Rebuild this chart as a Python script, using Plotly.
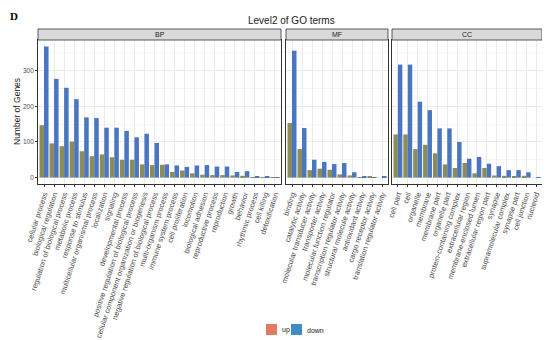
import plotly.graph_objects as go

bp_terms = ["cellular process", "biological regulation", "regulation of biological process",
            "metabolic process", "response to stimulus", "multicellular organismal process",
            "localization", "signaling", "developmental process",
            "positive regulation of biological process",
            "cellular component organization or biogenesis",
            "negative regulation of biological process", "multi-organism process",
            "immune system process", "cell proliferation", "locomotion",
            "biological adhesion", "reproductive process", "reproduction", "growth",
            "behavior", "rhythmic process", "cell killing", "detoxification"]
bp_up = [147, 96, 88, 101, 74, 60, 65, 57, 50, 50, 37, 35, 36, 16, 20, 12, 8, 7, 7, 6, 5, 1, 1, 1]
bp_down = [368, 277, 252, 220, 169, 167, 140, 140, 131, 113, 123, 97, 37, 34, 30, 34, 35, 31, 31, 16, 18, 3, 2, 1]

mf_terms = ["binding", "catalytic activity", "molecular transducer activity",
            "transporter activity", "molecular function regulator",
            "transcription regulator activity", "structural molecule activity",
            "antioxidant activity", "cargo receptor activity", "translation regulator activity"]
mf_up = [153, 80, 21, 25, 22, 9, 6, 1, 2, 0]
mf_down = [356, 139, 50, 44, 38, 41, 15, 2, 1, 2]

cc_terms = ["cell part", "cell", "organelle", "membrane", "membrane part", "organelle part",
            "protein-containing complex", "extracellular region", "membrane-enclosed lumen",
            "extracellular region part", "synapse", "supramolecular complex", "synapse part",
            "cell junction", "nucleoid"]
cc_up = [121, 121, 80, 92, 68, 37, 27, 41, 12, 27, 6, 5, 3, 5, 0]
cc_down = [317, 317, 213, 189, 138, 138, 100, 53, 58, 39, 32, 21, 21, 15, 1]

legend_names = ["up", "down"]
up_bar_color = "#8b8c5a"
down_bar_color = "#4a76c0"
key_colors = ["#e07b62", "#3f8bc6"]

OFF = 8  # page body margin
W, H = 550 - OFF, 340 - OFF


def px(x):
    return (x - OFF) / W


def py(y):
    return (H - (y - OFF)) / H


panels = [("BP", bp_terms, bp_up, bp_down, 38, 281),
          ("MF", mf_terms, mf_up, mf_down, 286, 388),
          ("CC", cc_terms, cc_up, cc_down, 392, 542)]
ybot = py(184)
ytop = py(40)
strip_top = py(29)

FONT = "Liberation Sans, Arial, sans-serif"
fig = go.Figure()
layout = dict(width=W, height=H, margin=dict(l=0, r=0, t=0, b=0, autoexpand=False),
              paper_bgcolor="white", plot_bgcolor="white", showlegend=False,
              barmode="group", bargap=0.1, bargroupgap=0,
              font=dict(family=FONT, size=7, color="#4d4d4d"))
shapes = []
annotations = []
for i, (name, terms, up, down, x0, x1) in enumerate(panels):
    sfx = "" if i == 0 else str(i + 1)
    xa, ya = "x" + sfx, "y" + sfx
    fig.add_trace(go.Bar(x=terms, y=up, name=legend_names[0], marker_color=up_bar_color,
                         marker_line_width=0, xaxis=xa, yaxis=ya, offsetgroup="up"))
    fig.add_trace(go.Bar(x=terms, y=down, name=legend_names[1], marker_color=down_bar_color,
                         marker_line_width=0, xaxis=xa, yaxis=ya, offsetgroup="down"))
    layout["xaxis" + sfx] = dict(domain=[px(x0), min(px(x1), 1.0)], anchor=ya,
                                 automargin=False,
                                 range=[-0.6, len(terms) - 0.4],
                                 tickangle=-72, tickfont=dict(size=7.5, color="#4d4d4d"),
                                 showgrid=True, gridcolor="#ebebeb", gridwidth=0.6,
                                 ticks="outside", ticklen=2, tickcolor="#333333",
                                 showline=True, linecolor="#333333", linewidth=0.8,
                                 mirror=True, zeroline=False, fixedrange=True)
    layout["yaxis" + sfx] = dict(domain=[ybot, ytop], anchor=xa, range=[-18, 386],
                                 automargin=False,
                                 tickvals=[0, 100, 200, 300],
                                 showticklabels=(i == 0),
                                 ticks="outside" if i == 0 else "", ticklen=2,
                                 tickcolor="#333333",
                                 tickfont=dict(size=6.5, color="#4d4d4d"),
                                 showgrid=True, gridcolor="#ebebeb", gridwidth=0.8,
                                 minor=dict(tickvals=[50, 150, 250, 350], showgrid=True,
                                            gridcolor="#f4f4f4", gridwidth=0.5),
                                 showline=True, linecolor="#333333", linewidth=0.8,
                                 mirror=True, zeroline=False)
    if i > 0:
        layout["yaxis" + sfx]["matches"] = "y"
    shapes.append(dict(type="rect", xref="paper", yref="paper", x0=px(x0),
                       x1=min(px(x1), 1.0), y0=ytop, y1=strip_top, fillcolor="#d9d9d9",
                       line=dict(color="#333333", width=0.8), layer="above"))
    annotations.append(dict(text=name, xref="paper", yref="paper",
                            x=(px(x0) + min(px(x1), 1.0)) / 2,
                            y=(ytop + strip_top) / 2, xanchor="center", yanchor="middle",
                            showarrow=False, font=dict(size=7, color="#1a1a1a")))

annotations.append(dict(text="Number of Genes", xref="paper", yref="paper",
                        x=px(17), y=py(112), xanchor="center", yanchor="middle",
                        textangle=-90, showarrow=False,
                        font=dict(size=8.5, color="#1a1a1a")))
annotations.append(dict(text="Level2 of GO terms", xref="paper", yref="paper",
                        x=px(291), y=py(20), xanchor="center", yanchor="middle",
                        showarrow=False, font=dict(size=10, color="#1a1a1a")))
annotations.append(dict(text="<b>D</b>", xref="paper", yref="paper", x=px(8),
                        y=1.0, xanchor="left", yanchor="top", showarrow=False,
                        font=dict(size=11, color="#000000",
                                  family="Liberation Serif, Times New Roman, serif")))

# legend keys (bottom centre)
key_x = [266, 291]
text_x = [280, 305]
for name, col, kx, tx in zip(legend_names, key_colors, key_x, text_x):
    shapes.append(dict(type="rect", xref="paper", yref="paper", x0=px(kx), x1=px(kx + 11),
                       y0=py(335), y1=py(324), fillcolor=col, line=dict(width=0)))
    annotations.append(dict(text=name, xref="paper", yref="paper", x=px(tx), y=py(330),
                            xanchor="left", yanchor="middle", showarrow=False,
                            font=dict(size=7, color="#1a1a1a")))

layout["shapes"] = shapes
layout["annotations"] = annotations
fig.update_layout(**layout)
fig.write_html("out.html")
